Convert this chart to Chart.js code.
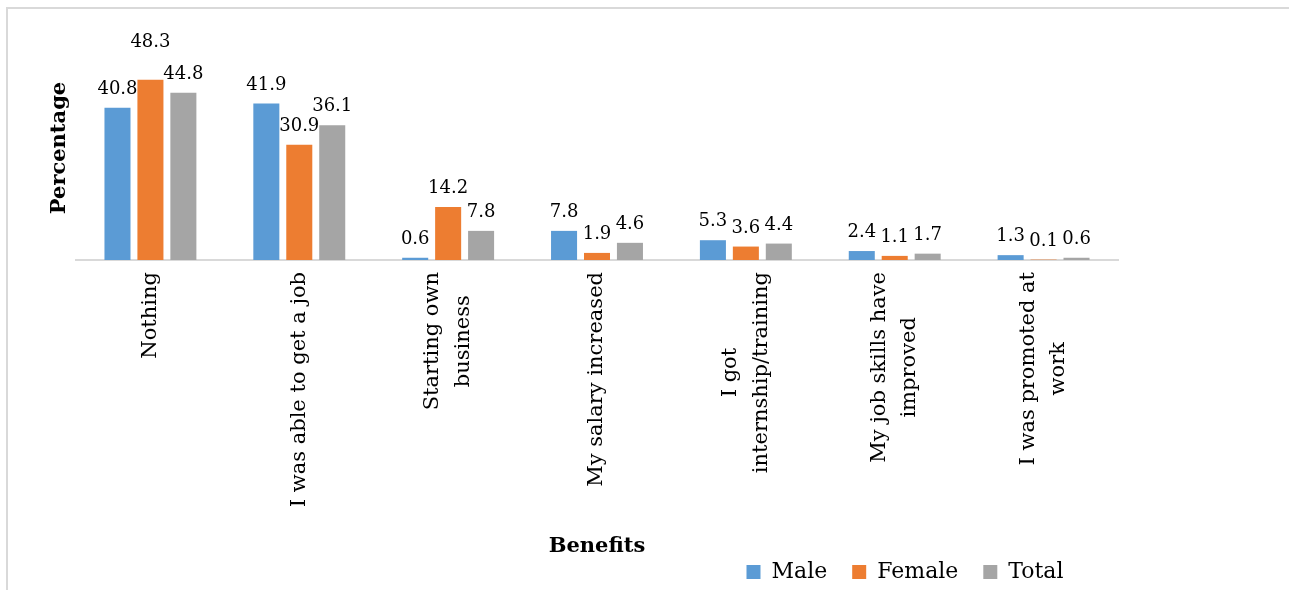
<!DOCTYPE html>
<html>
<head>
<meta charset="utf-8">
<script src="https://cdn.jsdelivr.net/npm/chart.js@4"></script>
<style>
    html, body { margin: 0; padding: 0; background: #fff; }
    canvas { display: block; }
</style>
</head>
<body>
<canvas id="benefitsChart" width="1289" height="590"></canvas>
<script>
const categories = [
    "Nothing",
    "I was able to get a job",
    ["Starting own", "business"],
    "My salary increased",
    ["I got", "internship/training"],
    ["My job skills have", "improved"],
    ["I was promoted at", "work"]
];
const maleValues = [40.8, 41.9, 0.6, 7.8, 5.3, 2.4, 1.3];
const femaleValues = [48.3, 30.9, 14.2, 1.9, 3.6, 1.1, 0.1];
const totalValues = [44.8, 36.1, 7.8, 4.6, 4.4, 1.7, 0.6];
const seriesNames = ["Male", "Female", "Total"];
const yTitle = "Percentage";
const xTitle = "Benefits";

const FONT = "'DejaVu Serif', serif";

// light grey frame round the chart, like the exported picture
const framePlugin = {
    id: "frame",
    beforeDraw(chart) {
        const ctx = chart.ctx;
        ctx.save();
        ctx.strokeStyle = "#d9d9d9";
        ctx.lineWidth = 2;
        ctx.beginPath();
        ctx.moveTo(7, chart.height);
        ctx.lineTo(7, 8);
        ctx.lineTo(chart.width, 8);
        ctx.stroke();
        ctx.restore();
    }
};

// rotated multi-line category labels: centre the lines on the tick and on each other
const centerTickLines = {
    id: "centerTickLines",
    beforeDraw(chart) {
        const scale = chart.scales.x;
        const ctx = chart.ctx;
        scale.getLabelItems().forEach(item => {
            if (item._centered) return;
            const lines = Array.isArray(item.label) ? item.label : [item.label];
            ctx.save();
            ctx.font = item.font.string;
            const widest = Math.max(...lines.map(l => ctx.measureText(l).width));
            ctx.restore();
            item.options.translation[0] -= (lines.length - 1) * item.font.lineHeight / 2;
            item.options.translation[1] += widest / 2;
            item.options.textAlign = "center";
            item._centered = true;
        });
    }
};

const valueLabels = {
    id: "valueLabels",
    afterDatasetsDraw(chart, args, opts) {
        const ctx = chart.ctx;
        ctx.save();
        ctx.font = `18px ${FONT}`;
        ctx.fillStyle = "#000";
        ctx.textAlign = "center";
        ctx.textBaseline = "alphabetic";
        chart.data.datasets.forEach((ds, di) => {
            chart.getDatasetMeta(di).data.forEach((bar, i) => {
                const lift = opts.lift[di + "-" + i] || 0;
                ctx.fillText(ds.data[i].toFixed(1), bar.x, bar.y - 14 - lift);
            });
        });
        ctx.restore();
    }
};

const legendPlacement = {
    id: "legendPlacement",
    afterLayout(chart, args, opts) {
        const lg = chart.legend;
        const dx = opts.centerX - (lg.left + lg.right) / 2;
        lg.left += dx;
        lg.right += dx;
        lg.top = opts.top;
        lg.bottom = lg.top + lg.height;
    }
};

Chart.defaults.font.family = FONT;
Chart.defaults.color = "#000";

new Chart(document.getElementById("benefitsChart"), {
    type: "bar",
    data: {
        labels: categories,
        datasets: [
            { label: seriesNames[0], data: maleValues, backgroundColor: "#5B9BD5" },
            { label: seriesNames[1], data: femaleValues, backgroundColor: "#ED7D31" },
            { label: seriesNames[2], data: totalValues, backgroundColor: "#A5A5A5" }
        ]
    },
    options: {
        responsive: false,
        animation: false,
        events: [],
        datasets: {
            bar: { categoryPercentage: 0.664, barPercentage: 0.79, borderWidth: 0 }
        },
        layout: { padding: { top: 36, left: 0, right: 171, bottom: 0 } },
        scales: {
            x: {
                grid: { display: false, drawTicks: false },
                border: { display: true, color: "#d9d9d9", width: 2 },
                ticks: {
                    autoSkip: false,
                    maxRotation: 90,
                    minRotation: 90,
                    padding: 12,
                    font: { family: FONT, size: 21, lineHeight: 1.45 }
                },
                title: {
                    display: true,
                    text: xTitle,
                    font: { family: FONT, size: 21, weight: "bold", lineHeight: 1.2 },
                    padding: { top: 0, bottom: -26 }
                },
                afterFit: (scale) => {
                    scale.height = 590 - 260 - scale.chart.legend.height;
                }
            },
            y: {
                min: 0,
                max: 60,
                grid: { display: false, drawTicks: false },
                border: { display: false },
                ticks: { display: false },
                title: {
                    display: true,
                    text: yTitle,
                    font: { family: FONT, size: 21, weight: "bold", lineHeight: 1.2 },
                    padding: { top: 47, bottom: 0 }
                },
                afterFit: (scale) => {
                    scale.width = 76;
                }
            }
        },
        plugins: {
            legend: {
                position: "bottom",
                labels: {
                    boxWidth: 14,
                    boxHeight: 14,
                    padding: 25,
                    font: { family: FONT, size: 22 },
                    color: "#000"
                }
            },
            tooltip: { enabled: false },
            valueLabels: { lift: { "1-0": 19 } },
            legendPlacement: { centerX: 905, top: 536 }
        }
    },
    plugins: [framePlugin, centerTickLines, valueLabels, legendPlacement]
});
</script>
</body>
</html>
